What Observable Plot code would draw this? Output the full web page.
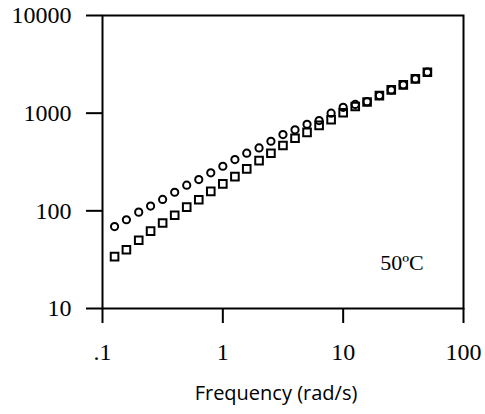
<!DOCTYPE html>
<html>
<head>
<meta charset="utf-8">
<script src="https://cdn.jsdelivr.net/npm/d3@7"></script>
<script src="https://cdn.jsdelivr.net/npm/@observablehq/plot@0.6"></script>
<style>
  html, body { margin: 0; padding: 0; background: #fff; }
</style>
</head>
<body>
<div id="chart"></div>
<script>
// Frequency (rad/s)
const freq = [0.126, 0.158, 0.2, 0.251, 0.316, 0.398, 0.501, 0.631, 0.794, 1,
              1.26, 1.58, 2, 2.51, 3.16, 3.98, 5.01, 6.31, 7.94, 10,
              12.6, 15.8, 20, 25.1, 31.6, 39.8, 50.1];
// circles
const circleValues = [69, 81, 97, 112, 131, 155, 183, 209, 245, 286,
                      335, 389, 441, 516, 604, 675, 770, 840, 1000, 1149,
                      1230, 1310, 1513, 1731, 1950, 2244, 2626];
// squares
const squareValues = [34, 40, 50, 62, 75, 90, 109, 130, 158, 189,
                      224, 269, 327, 389, 466, 554, 635, 750, 856, 1010,
                      1170, 1300, 1513, 1731, 1950, 2244, 2626];

const xTicks = [0.1, 1, 10, 100];
const xTickLabels = [".1", "1", "10", "100"];
const yTicks = [10, 100, 1000, 10000];
const yTickLabels = ["10", "100", "1000", "10000"];
const xTitle = "Frequency (rad/s)";
const noteX = [20.3];
const noteY = [29];
const noteText = ["50\u00BAC"];

const circles = freq.map((f, i) => ({f, v: circleValues[i]}));
const squares = freq.map((f, i) => ({f, v: squareValues[i]}));
const notes = noteX.map((x, i) => ({x, y: noteY[i], t: noteText[i]}));

const serif = "'Liberation Serif', 'Times New Roman', serif";

const chart = Plot.plot({
  width: 485,
  height: 414,
  marginLeft: 102,
  marginRight: 22,
  marginTop: 15,
  marginBottom: 106,
  style: {background: "#fff", color: "#000", fontFamily: serif, fontSize: "24px"},
  x: {type: "log", domain: [0.1, 100]},
  y: {type: "log", domain: [10, 10000]},
  marks: [
    Plot.frame({stroke: "#000", strokeWidth: 2}),
    Plot.axisY({
      ticks: yTicks, tickSize: 16, tickPadding: 15, strokeWidth: 2,
      fontSize: 24, fontFamily: serif, label: null,
      tickFormat: d => yTickLabels[yTicks.indexOf(d)]
    }),
    Plot.axisX({
      ticks: xTicks, tickSize: 15, tickPadding: 19, strokeWidth: 2,
      fontSize: 24, fontFamily: serif, label: null,
      tickFormat: d => xTickLabels[xTicks.indexOf(d)]
    }),
    Plot.dot(circles, {x: "f", y: "v", symbol: "circle", r: 3.6, stroke: "#000", strokeWidth: 2, fill: "none"}),
    Plot.dot(squares, {x: "f", y: "v", symbol: "square", r: 4.3, stroke: "#000", strokeWidth: 2, fill: "none"}),
    Plot.text(notes, {x: "x", y: "y", text: "t", textAnchor: "start", fontSize: 22, fontFamily: serif, fill: "#000"}),
    Plot.text([xTitle], {text: d => d, frameAnchor: "bottom", dy: 91, dx: -7, fontSize: 20,
      fontFamily: "'Open Sans', 'DejaVu Sans', sans-serif", fill: "#000"})
  ]
});
document.getElementById("chart").appendChild(chart);
</script>
</body>
</html>
